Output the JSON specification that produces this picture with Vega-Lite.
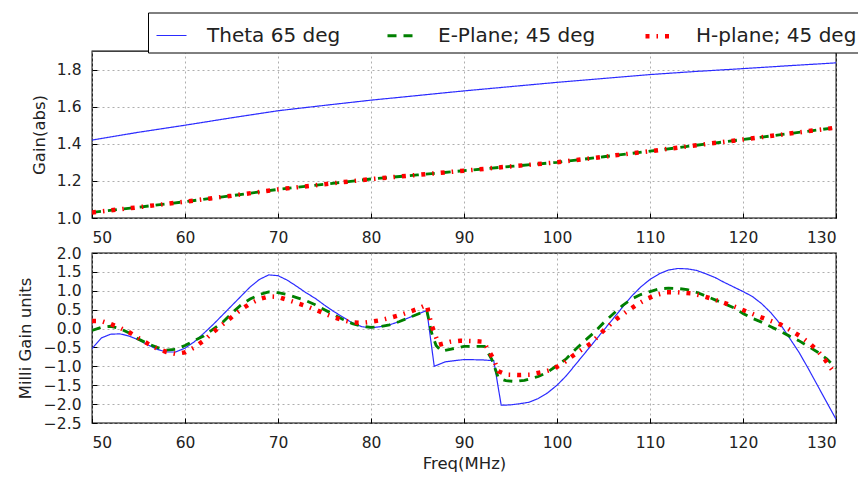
{
  "$schema": "https://vega.github.io/schema/vega-lite/v6.json",
  "autosize": {"type": "none"},
  "padding": {"left": 92, "top": 51, "right": 766, "bottom": 434},
  "background": "white",
  "config": {
    "font": "DejaVu Sans",
    "view": {"stroke": "black", "strokeWidth": 1.3},
    "axis": {
      "labelFont": "DejaVu Sans", "labelFontSize": 15.5, "labelColor": "#222",
      "titleFont": "DejaVu Sans", "titleFontSize": 16.5, "titleFontWeight": "normal", "titleColor": "#222",
      "gridColor": "#999", "gridDash": [2, 3], "gridWidth": 0.8,
      "domain": false, "tickColor": "black", "tickSize": -5, "labelPadding": 16
    },
    "legend": {
      "orient": "none", "legendX": 56, "legendY": -38.5, "direction": "horizontal", "columns": 3,
      "strokeColor": "black", "padding": 6, "symbolType": "stroke", "symbolSize": 900,
      "labelFont": "DejaVu Sans", "labelFontSize": 20, "labelColor": "#222", "labelOffset": 18,
      "columnPadding": 40, "labelLimit": 400, "title": null, "fillColor": "white"
    }
  },
  "datasets": {
    "top": [
      {"f": 50, "s": "Theta 65 deg", "v": 1.42}, {"f": 55, "s": "Theta 65 deg", "v": 1.462}, {"f": 60, "s": "Theta 65 deg", "v": 1.5}, {"f": 65, "s": "Theta 65 deg", "v": 1.54}, {"f": 70, "s": "Theta 65 deg", "v": 1.578}, {"f": 75, "s": "Theta 65 deg", "v": 1.607}, {"f": 80, "s": "Theta 65 deg", "v": 1.635}, {"f": 85, "s": "Theta 65 deg", "v": 1.66}, {"f": 90, "s": "Theta 65 deg", "v": 1.685}, {"f": 95, "s": "Theta 65 deg", "v": 1.708}, {"f": 100, "s": "Theta 65 deg", "v": 1.731}, {"f": 105, "s": "Theta 65 deg", "v": 1.752}, {"f": 110, "s": "Theta 65 deg", "v": 1.773}, {"f": 115, "s": "Theta 65 deg", "v": 1.79}, {"f": 120, "s": "Theta 65 deg", "v": 1.805}, {"f": 125, "s": "Theta 65 deg", "v": 1.821}, {"f": 130, "s": "Theta 65 deg", "v": 1.836},
      {"f": 50, "s": "E-Plane; 45 deg", "v": 1.03}, {"f": 55, "s": "E-Plane; 45 deg", "v": 1.058}, {"f": 60, "s": "E-Plane; 45 deg", "v": 1.088}, {"f": 65, "s": "E-Plane; 45 deg", "v": 1.12}, {"f": 70, "s": "E-Plane; 45 deg", "v": 1.154}, {"f": 75, "s": "E-Plane; 45 deg", "v": 1.182}, {"f": 80, "s": "E-Plane; 45 deg", "v": 1.21}, {"f": 85, "s": "E-Plane; 45 deg", "v": 1.232}, {"f": 90, "s": "E-Plane; 45 deg", "v": 1.255}, {"f": 95, "s": "E-Plane; 45 deg", "v": 1.278}, {"f": 100, "s": "E-Plane; 45 deg", "v": 1.3}, {"f": 105, "s": "E-Plane; 45 deg", "v": 1.33}, {"f": 110, "s": "E-Plane; 45 deg", "v": 1.36}, {"f": 115, "s": "E-Plane; 45 deg", "v": 1.392}, {"f": 120, "s": "E-Plane; 45 deg", "v": 1.423}, {"f": 125, "s": "E-Plane; 45 deg", "v": 1.455}, {"f": 130, "s": "E-Plane; 45 deg", "v": 1.487},
      {"f": 50, "s": "H-plane; 45 deg", "v": 1.03}, {"f": 55, "s": "H-plane; 45 deg", "v": 1.058}, {"f": 60, "s": "H-plane; 45 deg", "v": 1.088}, {"f": 65, "s": "H-plane; 45 deg", "v": 1.12}, {"f": 70, "s": "H-plane; 45 deg", "v": 1.154}, {"f": 75, "s": "H-plane; 45 deg", "v": 1.182}, {"f": 80, "s": "H-plane; 45 deg", "v": 1.21}, {"f": 85, "s": "H-plane; 45 deg", "v": 1.232}, {"f": 90, "s": "H-plane; 45 deg", "v": 1.255}, {"f": 95, "s": "H-plane; 45 deg", "v": 1.278}, {"f": 100, "s": "H-plane; 45 deg", "v": 1.3}, {"f": 105, "s": "H-plane; 45 deg", "v": 1.33}, {"f": 110, "s": "H-plane; 45 deg", "v": 1.36}, {"f": 115, "s": "H-plane; 45 deg", "v": 1.392}, {"f": 120, "s": "H-plane; 45 deg", "v": 1.423}, {"f": 125, "s": "H-plane; 45 deg", "v": 1.455}, {"f": 130, "s": "H-plane; 45 deg", "v": 1.487}
    ],
    "bottom": [
      {"f": 50, "s": "Theta 65 deg", "v": -0.53}, {"f": 51, "s": "Theta 65 deg", "v": -0.25}, {"f": 52, "s": "Theta 65 deg", "v": -0.15}, {"f": 53, "s": "Theta 65 deg", "v": -0.14}, {"f": 54, "s": "Theta 65 deg", "v": -0.2}, {"f": 55, "s": "Theta 65 deg", "v": -0.3}, {"f": 56, "s": "Theta 65 deg", "v": -0.43}, {"f": 57, "s": "Theta 65 deg", "v": -0.55}, {"f": 58, "s": "Theta 65 deg", "v": -0.62}, {"f": 59, "s": "Theta 65 deg", "v": -0.62}, {"f": 60, "s": "Theta 65 deg", "v": -0.52}, {"f": 61, "s": "Theta 65 deg", "v": -0.35}, {"f": 62, "s": "Theta 65 deg", "v": -0.13}, {"f": 63, "s": "Theta 65 deg", "v": 0.1}, {"f": 64, "s": "Theta 65 deg", "v": 0.35}, {"f": 65, "s": "Theta 65 deg", "v": 0.6}, {"f": 66, "s": "Theta 65 deg", "v": 0.85}, {"f": 67, "s": "Theta 65 deg", "v": 1.1}, {"f": 68, "s": "Theta 65 deg", "v": 1.3}, {"f": 69, "s": "Theta 65 deg", "v": 1.42}, {"f": 70, "s": "Theta 65 deg", "v": 1.4}, {"f": 71, "s": "Theta 65 deg", "v": 1.28}, {"f": 72, "s": "Theta 65 deg", "v": 1.12}, {"f": 73, "s": "Theta 65 deg", "v": 0.95}, {"f": 74, "s": "Theta 65 deg", "v": 0.8}, {"f": 75, "s": "Theta 65 deg", "v": 0.62}, {"f": 76, "s": "Theta 65 deg", "v": 0.45}, {"f": 77, "s": "Theta 65 deg", "v": 0.3}, {"f": 78, "s": "Theta 65 deg", "v": 0.15}, {"f": 79, "s": "Theta 65 deg", "v": 0.05}, {"f": 80, "s": "Theta 65 deg", "v": 0.02}, {"f": 81, "s": "Theta 65 deg", "v": 0.05}, {"f": 82, "s": "Theta 65 deg", "v": 0.1}, {"f": 83, "s": "Theta 65 deg", "v": 0.18}, {"f": 84, "s": "Theta 65 deg", "v": 0.28}, {"f": 85, "s": "Theta 65 deg", "v": 0.38}, {"f": 86, "s": "Theta 65 deg", "v": 0.48}, {"f": 86.8, "s": "Theta 65 deg", "v": -1.0}, {"f": 88, "s": "Theta 65 deg", "v": -0.88}, {"f": 90, "s": "Theta 65 deg", "v": -0.82}, {"f": 92, "s": "Theta 65 deg", "v": -0.83}, {"f": 93.2, "s": "Theta 65 deg", "v": -0.85}, {"f": 94, "s": "Theta 65 deg", "v": -2.03}, {"f": 95, "s": "Theta 65 deg", "v": -2.02}, {"f": 96, "s": "Theta 65 deg", "v": -1.99}, {"f": 97, "s": "Theta 65 deg", "v": -1.95}, {"f": 98, "s": "Theta 65 deg", "v": -1.85}, {"f": 99, "s": "Theta 65 deg", "v": -1.7}, {"f": 100, "s": "Theta 65 deg", "v": -1.5}, {"f": 101, "s": "Theta 65 deg", "v": -1.25}, {"f": 102, "s": "Theta 65 deg", "v": -0.95}, {"f": 103, "s": "Theta 65 deg", "v": -0.65}, {"f": 104, "s": "Theta 65 deg", "v": -0.35}, {"f": 105, "s": "Theta 65 deg", "v": -0.05}, {"f": 106, "s": "Theta 65 deg", "v": 0.25}, {"f": 107, "s": "Theta 65 deg", "v": 0.55}, {"f": 108, "s": "Theta 65 deg", "v": 0.85}, {"f": 109, "s": "Theta 65 deg", "v": 1.1}, {"f": 110, "s": "Theta 65 deg", "v": 1.3}, {"f": 111, "s": "Theta 65 deg", "v": 1.45}, {"f": 112, "s": "Theta 65 deg", "v": 1.55}, {"f": 113, "s": "Theta 65 deg", "v": 1.59}, {"f": 114, "s": "Theta 65 deg", "v": 1.58}, {"f": 115, "s": "Theta 65 deg", "v": 1.54}, {"f": 116, "s": "Theta 65 deg", "v": 1.45}, {"f": 117, "s": "Theta 65 deg", "v": 1.35}, {"f": 118, "s": "Theta 65 deg", "v": 1.22}, {"f": 119, "s": "Theta 65 deg", "v": 1.1}, {"f": 120, "s": "Theta 65 deg", "v": 0.98}, {"f": 121, "s": "Theta 65 deg", "v": 0.85}, {"f": 122, "s": "Theta 65 deg", "v": 0.66}, {"f": 123, "s": "Theta 65 deg", "v": 0.42}, {"f": 124, "s": "Theta 65 deg", "v": 0.12}, {"f": 125, "s": "Theta 65 deg", "v": -0.25}, {"f": 126, "s": "Theta 65 deg", "v": -0.62}, {"f": 127, "s": "Theta 65 deg", "v": -1.05}, {"f": 128, "s": "Theta 65 deg", "v": -1.5}, {"f": 129, "s": "Theta 65 deg", "v": -1.95}, {"f": 130, "s": "Theta 65 deg", "v": -2.4},
      {"f": 50, "s": "E-Plane; 45 deg", "v": -0.05}, {"f": 51, "s": "E-Plane; 45 deg", "v": 0.03}, {"f": 52, "s": "E-Plane; 45 deg", "v": 0.06}, {"f": 53, "s": "E-Plane; 45 deg", "v": 0.0}, {"f": 54, "s": "E-Plane; 45 deg", "v": -0.12}, {"f": 55, "s": "E-Plane; 45 deg", "v": -0.28}, {"f": 56, "s": "E-Plane; 45 deg", "v": -0.4}, {"f": 57, "s": "E-Plane; 45 deg", "v": -0.5}, {"f": 58, "s": "E-Plane; 45 deg", "v": -0.57}, {"f": 59, "s": "E-Plane; 45 deg", "v": -0.55}, {"f": 60, "s": "E-Plane; 45 deg", "v": -0.45}, {"f": 61, "s": "E-Plane; 45 deg", "v": -0.32}, {"f": 62, "s": "E-Plane; 45 deg", "v": -0.2}, {"f": 63, "s": "E-Plane; 45 deg", "v": -0.02}, {"f": 64, "s": "E-Plane; 45 deg", "v": 0.15}, {"f": 65, "s": "E-Plane; 45 deg", "v": 0.4}, {"f": 66, "s": "E-Plane; 45 deg", "v": 0.62}, {"f": 67, "s": "E-Plane; 45 deg", "v": 0.78}, {"f": 68, "s": "E-Plane; 45 deg", "v": 0.9}, {"f": 69, "s": "E-Plane; 45 deg", "v": 0.97}, {"f": 70, "s": "E-Plane; 45 deg", "v": 0.95}, {"f": 71, "s": "E-Plane; 45 deg", "v": 0.9}, {"f": 72, "s": "E-Plane; 45 deg", "v": 0.82}, {"f": 73, "s": "E-Plane; 45 deg", "v": 0.74}, {"f": 74, "s": "E-Plane; 45 deg", "v": 0.63}, {"f": 75, "s": "E-Plane; 45 deg", "v": 0.5}, {"f": 76, "s": "E-Plane; 45 deg", "v": 0.37}, {"f": 77, "s": "E-Plane; 45 deg", "v": 0.24}, {"f": 78, "s": "E-Plane; 45 deg", "v": 0.13}, {"f": 79, "s": "E-Plane; 45 deg", "v": 0.06}, {"f": 80, "s": "E-Plane; 45 deg", "v": 0.03}, {"f": 81, "s": "E-Plane; 45 deg", "v": 0.05}, {"f": 82, "s": "E-Plane; 45 deg", "v": 0.1}, {"f": 83, "s": "E-Plane; 45 deg", "v": 0.18}, {"f": 84, "s": "E-Plane; 45 deg", "v": 0.28}, {"f": 85, "s": "E-Plane; 45 deg", "v": 0.38}, {"f": 86, "s": "E-Plane; 45 deg", "v": 0.48}, {"f": 86.5, "s": "E-Plane; 45 deg", "v": -0.1}, {"f": 87, "s": "E-Plane; 45 deg", "v": -0.45}, {"f": 87.6, "s": "E-Plane; 45 deg", "v": -0.6}, {"f": 88.5, "s": "E-Plane; 45 deg", "v": -0.55}, {"f": 90, "s": "E-Plane; 45 deg", "v": -0.47}, {"f": 91, "s": "E-Plane; 45 deg", "v": -0.47}, {"f": 92.2, "s": "E-Plane; 45 deg", "v": -0.47}, {"f": 93, "s": "E-Plane; 45 deg", "v": -0.82}, {"f": 93.7, "s": "E-Plane; 45 deg", "v": -1.31}, {"f": 94.5, "s": "E-Plane; 45 deg", "v": -1.38}, {"f": 95.5, "s": "E-Plane; 45 deg", "v": -1.4}, {"f": 96.5, "s": "E-Plane; 45 deg", "v": -1.37}, {"f": 98, "s": "E-Plane; 45 deg", "v": -1.27}, {"f": 99, "s": "E-Plane; 45 deg", "v": -1.15}, {"f": 100, "s": "E-Plane; 45 deg", "v": -0.98}, {"f": 101, "s": "E-Plane; 45 deg", "v": -0.8}, {"f": 102, "s": "E-Plane; 45 deg", "v": -0.55}, {"f": 103, "s": "E-Plane; 45 deg", "v": -0.32}, {"f": 104, "s": "E-Plane; 45 deg", "v": -0.1}, {"f": 105, "s": "E-Plane; 45 deg", "v": 0.15}, {"f": 106, "s": "E-Plane; 45 deg", "v": 0.38}, {"f": 107, "s": "E-Plane; 45 deg", "v": 0.6}, {"f": 108, "s": "E-Plane; 45 deg", "v": 0.78}, {"f": 109, "s": "E-Plane; 45 deg", "v": 0.9}, {"f": 110, "s": "E-Plane; 45 deg", "v": 0.98}, {"f": 111, "s": "E-Plane; 45 deg", "v": 1.05}, {"f": 112, "s": "E-Plane; 45 deg", "v": 1.07}, {"f": 113, "s": "E-Plane; 45 deg", "v": 1.06}, {"f": 114, "s": "E-Plane; 45 deg", "v": 1.03}, {"f": 115, "s": "E-Plane; 45 deg", "v": 0.96}, {"f": 116, "s": "E-Plane; 45 deg", "v": 0.86}, {"f": 117, "s": "E-Plane; 45 deg", "v": 0.76}, {"f": 118, "s": "E-Plane; 45 deg", "v": 0.66}, {"f": 119, "s": "E-Plane; 45 deg", "v": 0.55}, {"f": 120, "s": "E-Plane; 45 deg", "v": 0.4}, {"f": 121, "s": "E-Plane; 45 deg", "v": 0.27}, {"f": 122, "s": "E-Plane; 45 deg", "v": 0.17}, {"f": 123, "s": "E-Plane; 45 deg", "v": 0.05}, {"f": 124, "s": "E-Plane; 45 deg", "v": -0.07}, {"f": 125, "s": "E-Plane; 45 deg", "v": -0.2}, {"f": 126, "s": "E-Plane; 45 deg", "v": -0.32}, {"f": 127, "s": "E-Plane; 45 deg", "v": -0.47}, {"f": 128, "s": "E-Plane; 45 deg", "v": -0.62}, {"f": 129, "s": "E-Plane; 45 deg", "v": -0.8}, {"f": 130, "s": "E-Plane; 45 deg", "v": -1.05},
      {"f": 50, "s": "H-plane; 45 deg", "v": 0.2}, {"f": 51, "s": "H-plane; 45 deg", "v": 0.2}, {"f": 52, "s": "H-plane; 45 deg", "v": 0.12}, {"f": 53, "s": "H-plane; 45 deg", "v": 0.02}, {"f": 54, "s": "H-plane; 45 deg", "v": -0.1}, {"f": 55, "s": "H-plane; 45 deg", "v": -0.25}, {"f": 56, "s": "H-plane; 45 deg", "v": -0.4}, {"f": 57, "s": "H-plane; 45 deg", "v": -0.53}, {"f": 58, "s": "H-plane; 45 deg", "v": -0.62}, {"f": 59, "s": "H-plane; 45 deg", "v": -0.67}, {"f": 60, "s": "H-plane; 45 deg", "v": -0.63}, {"f": 61, "s": "H-plane; 45 deg", "v": -0.5}, {"f": 62, "s": "H-plane; 45 deg", "v": -0.32}, {"f": 63, "s": "H-plane; 45 deg", "v": -0.1}, {"f": 64, "s": "H-plane; 45 deg", "v": 0.1}, {"f": 65, "s": "H-plane; 45 deg", "v": 0.3}, {"f": 66, "s": "H-plane; 45 deg", "v": 0.5}, {"f": 67, "s": "H-plane; 45 deg", "v": 0.66}, {"f": 68, "s": "H-plane; 45 deg", "v": 0.78}, {"f": 69, "s": "H-plane; 45 deg", "v": 0.85}, {"f": 70, "s": "H-plane; 45 deg", "v": 0.84}, {"f": 71, "s": "H-plane; 45 deg", "v": 0.76}, {"f": 72, "s": "H-plane; 45 deg", "v": 0.68}, {"f": 73, "s": "H-plane; 45 deg", "v": 0.6}, {"f": 74, "s": "H-plane; 45 deg", "v": 0.5}, {"f": 75, "s": "H-plane; 45 deg", "v": 0.4}, {"f": 76, "s": "H-plane; 45 deg", "v": 0.3}, {"f": 77, "s": "H-plane; 45 deg", "v": 0.22}, {"f": 78, "s": "H-plane; 45 deg", "v": 0.16}, {"f": 79, "s": "H-plane; 45 deg", "v": 0.15}, {"f": 80, "s": "H-plane; 45 deg", "v": 0.18}, {"f": 81, "s": "H-plane; 45 deg", "v": 0.22}, {"f": 82, "s": "H-plane; 45 deg", "v": 0.28}, {"f": 83, "s": "H-plane; 45 deg", "v": 0.35}, {"f": 84, "s": "H-plane; 45 deg", "v": 0.43}, {"f": 85, "s": "H-plane; 45 deg", "v": 0.52}, {"f": 86, "s": "H-plane; 45 deg", "v": 0.63}, {"f": 86.5, "s": "H-plane; 45 deg", "v": 0.1}, {"f": 87.3, "s": "H-plane; 45 deg", "v": -0.43}, {"f": 88.5, "s": "H-plane; 45 deg", "v": -0.35}, {"f": 89.6, "s": "H-plane; 45 deg", "v": -0.32}, {"f": 91, "s": "H-plane; 45 deg", "v": -0.33}, {"f": 92.1, "s": "H-plane; 45 deg", "v": -0.35}, {"f": 93.2, "s": "H-plane; 45 deg", "v": -0.82}, {"f": 93.7, "s": "H-plane; 45 deg", "v": -1.13}, {"f": 94.6, "s": "H-plane; 45 deg", "v": -1.22}, {"f": 96, "s": "H-plane; 45 deg", "v": -1.23}, {"f": 97.1, "s": "H-plane; 45 deg", "v": -1.22}, {"f": 98.5, "s": "H-plane; 45 deg", "v": -1.15}, {"f": 99.4, "s": "H-plane; 45 deg", "v": -1.09}, {"f": 100.5, "s": "H-plane; 45 deg", "v": -0.95}, {"f": 101.6, "s": "H-plane; 45 deg", "v": -0.74}, {"f": 102.7, "s": "H-plane; 45 deg", "v": -0.55}, {"f": 103.7, "s": "H-plane; 45 deg", "v": -0.38}, {"f": 104.6, "s": "H-plane; 45 deg", "v": -0.15}, {"f": 105.5, "s": "H-plane; 45 deg", "v": 0.06}, {"f": 106.5, "s": "H-plane; 45 deg", "v": 0.27}, {"f": 107.5, "s": "H-plane; 45 deg", "v": 0.45}, {"f": 108.5, "s": "H-plane; 45 deg", "v": 0.62}, {"f": 109.6, "s": "H-plane; 45 deg", "v": 0.78}, {"f": 110.7, "s": "H-plane; 45 deg", "v": 0.89}, {"f": 111.8, "s": "H-plane; 45 deg", "v": 0.96}, {"f": 113, "s": "H-plane; 45 deg", "v": 0.96}, {"f": 114.5, "s": "H-plane; 45 deg", "v": 0.93}, {"f": 115.7, "s": "H-plane; 45 deg", "v": 0.86}, {"f": 116.9, "s": "H-plane; 45 deg", "v": 0.77}, {"f": 118.2, "s": "H-plane; 45 deg", "v": 0.66}, {"f": 119.4, "s": "H-plane; 45 deg", "v": 0.55}, {"f": 120.5, "s": "H-plane; 45 deg", "v": 0.44}, {"f": 121.6, "s": "H-plane; 45 deg", "v": 0.33}, {"f": 122.8, "s": "H-plane; 45 deg", "v": 0.22}, {"f": 124, "s": "H-plane; 45 deg", "v": 0.11}, {"f": 125.1, "s": "H-plane; 45 deg", "v": -0.04}, {"f": 126.2, "s": "H-plane; 45 deg", "v": -0.21}, {"f": 127.1, "s": "H-plane; 45 deg", "v": -0.38}, {"f": 128, "s": "H-plane; 45 deg", "v": -0.58}, {"f": 128.8, "s": "H-plane; 45 deg", "v": -0.82}, {"f": 129.6, "s": "H-plane; 45 deg", "v": -1.1}, {"f": 130, "s": "H-plane; 45 deg", "v": -1.18}
    ]
  },
  "spacing": 35,
  "bounds": "flush",
  "vconcat": [
    {
      "width": 744, "height": 167,
      "data": {"name": "top"},
      "mark": {"type": "line", "clip": true},
      "encoding": {
        "x": {"field": "f", "type": "quantitative", "scale": {"domain": [50, 130], "nice": false},
              "axis": {"title": null, "values": [50, 60, 70, 80, 90, 100, 110, 120, 130], "labelPadding": 17}},
        "y": {"field": "v", "type": "quantitative", "scale": {"domain": [1.0, 1.9], "nice": false, "zero": false},
              "axis": {"title": "Gain(abs)", "values": [1.0, 1.2, 1.4, 1.6, 1.8], "format": ".1f", "titlePadding": 9}},
        "color": {"field": "s", "type": "nominal", "scale": {"domain": ["Theta 65 deg", "E-Plane; 45 deg", "H-plane; 45 deg"], "range": ["#2b2bff", "#008000", "#ff0000"]}},
        "strokeDash": {"field": "s", "type": "nominal", "scale": {"domain": ["Theta 65 deg", "E-Plane; 45 deg", "H-plane; 45 deg"], "range": [[1, 0], [9, 7], [4, 7, 1.5, 7]]}},
        "strokeWidth": {"field": "s", "type": "nominal", "scale": {"domain": ["Theta 65 deg", "E-Plane; 45 deg", "H-plane; 45 deg"], "range": [1.2, 4.5, 4]}}
      }
    },
    {
      "width": 744, "height": 170,
      "data": {"name": "bottom"},
      "mark": {"type": "line", "clip": true},
      "encoding": {
        "x": {"field": "f", "type": "quantitative", "scale": {"domain": [50, 130], "nice": false},
              "axis": {"title": "Freq(MHz)", "values": [50, 60, 70, 80, 90, 100, 110, 120, 130], "labelPadding": 17, "titlePadding": 5}},
        "y": {"field": "v", "type": "quantitative", "scale": {"domain": [-2.5, 2.0], "nice": false, "zero": false},
              "axis": {"title": "Milli Gain units", "values": [-2.5, -2.0, -1.5, -1.0, -0.5, 0.0, 0.5, 1.0, 1.5, 2.0], "format": ".1f", "titlePadding": 10}},
        "color": {"field": "s", "type": "nominal", "scale": {"domain": ["Theta 65 deg", "E-Plane; 45 deg", "H-plane; 45 deg"], "range": ["#2b2bff", "#008000", "#ff0000"]}},
        "strokeDash": {"field": "s", "type": "nominal", "scale": {"domain": ["Theta 65 deg", "E-Plane; 45 deg", "H-plane; 45 deg"], "range": [[1, 0], [9, 7], [4, 7, 1.5, 7]]}},
        "strokeWidth": {"field": "s", "type": "nominal", "scale": {"domain": ["Theta 65 deg", "E-Plane; 45 deg", "H-plane; 45 deg"], "range": [1.2, 4.5, 4]}}
      }
    }
  ]
}
